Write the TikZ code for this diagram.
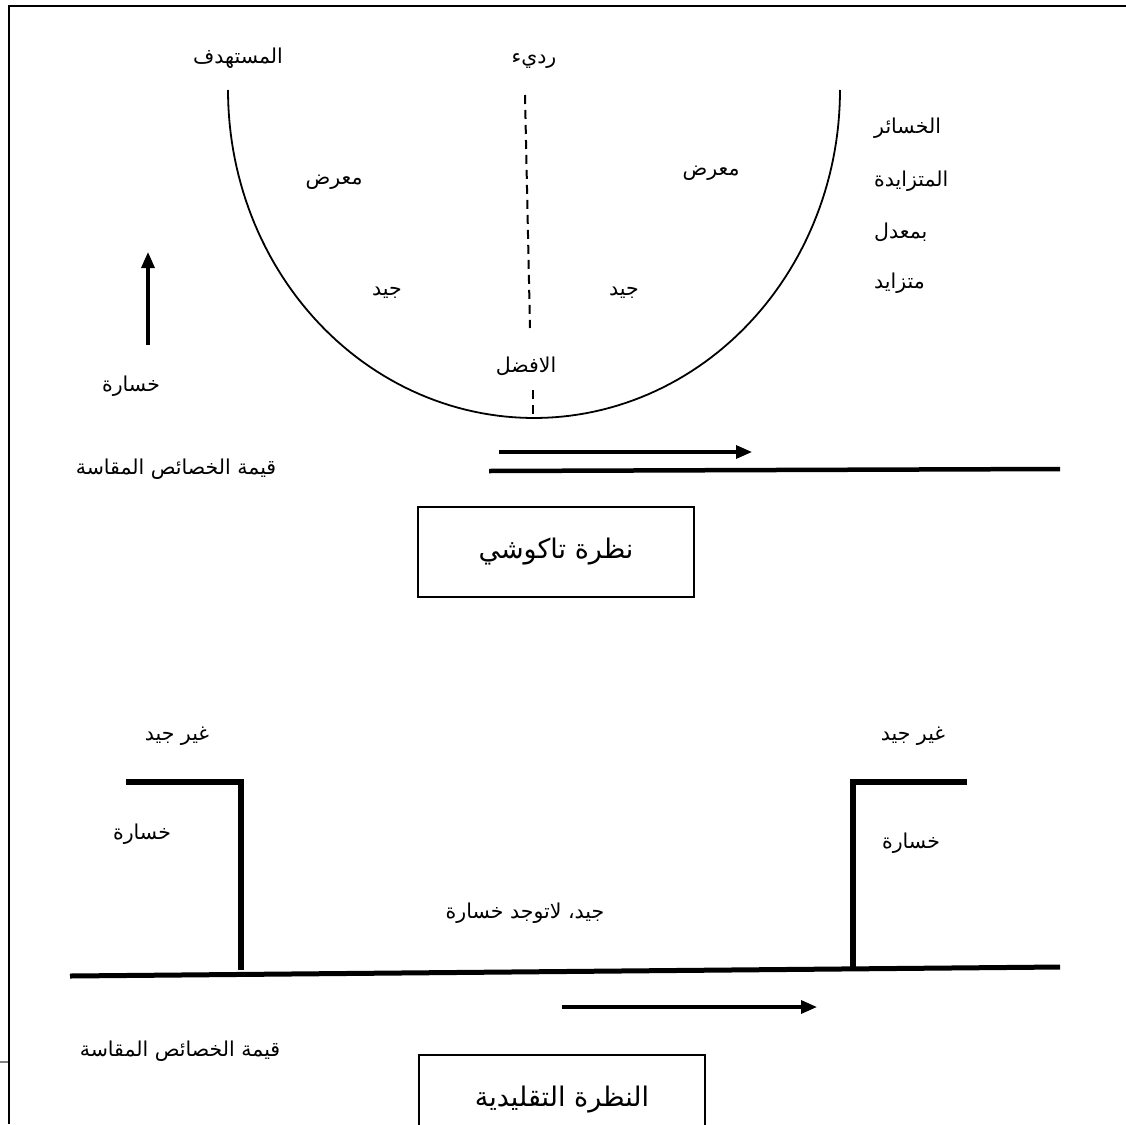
\documentclass[tikz,border=0pt]{standalone}
\usepackage{fontspec}
\newfontfamily\arfont[Script=Arabic]{DejaVu Sans}
\TeXXeTstate=1
\usetikzlibrary{arrows.meta}
\newcommand\artxt[1]{\beginR #1\endR}
\begin{document}
\begin{tikzpicture}[x=1pt,y=-1pt,
  lbl/.style={font=\arfont\fontsize{20.5}{24}\selectfont, inner sep=0pt},
  ttl/.style={font=\arfont\fontsize{27}{32}\selectfont, inner sep=0pt},
  frameline/.style={line width=2pt},
  curve/.style={line width=1.8pt},
  dashline/.style={line width=2pt, dash pattern=on 9pt off 6pt},
  axis/.style={line width=4.5pt},
  stepline/.style={line width=5.5pt},
  arr/.style={line width=3.2pt, -{Triangle[length=16pt,width=13pt]}},
  boxed/.style={draw, line width=2pt, inner sep=0pt}]
\useasboundingbox (0,0) rectangle (1126,1124);
% frame
\coordinate (fTL) at (9,6);
\coordinate (fTR) at (1126,6);
\coordinate (fBL) at (9,1124);
\draw[frameline] (fTR) -- (fTL) -- (fBL);
\coordinate (gA) at (0,1062);
\coordinate (gB) at (8,1062);
\draw[gray,line width=1.5pt] (gA) -- (gB);

% ---------- Taguchi view ----------
\draw[curve] plot[domain=180:360, samples=120] ({534+306*cos(\x)}, {90-328*sin(\x)});
\coordinate (dA) at (525,95);
\coordinate (dB) at (530,328);
\coordinate (dC) at (533,390);
\coordinate (dD) at (533,418);
\draw[dashline] (dA) -- (dB);
\draw[dashline] (dC) -- (dD);

\node[lbl] (target) at (238,58) {\artxt{المستهدف}};
\node[lbl] (bad) at (534,61) {\artxt{رديء}};
\node[lbl] (fairL) at (334,182) {\artxt{معرض}};
\node[lbl] (fairR) at (711,173) {\artxt{معرض}};
\node[lbl,anchor=west] (r1) at (874,128) {\artxt{الخسائر}};
\node[lbl,anchor=west] (r2) at (874,181) {\artxt{المتزايدة}};
\node[lbl,anchor=west] (r3) at (874,232) {\artxt{بمعدل}};
\node[lbl,anchor=west] (r4) at (874,283) {\artxt{متزايد}};
\node[lbl] (goodL) at (387,293) {\artxt{جيد}};
\node[lbl] (goodR) at (624,293) {\artxt{جيد}};
\node[lbl] (best) at (526,366) {\artxt{الافضل}};
\node[lbl] (lossT) at (131,386) {\artxt{خسارة}};
\node[lbl] (valT) at (176,469) {\artxt{قيمة الخصائص المقاسة}};

\coordinate (upA) at (148,345);
\coordinate (upB) at (148,252);
\draw[arr] (upA) -- (upB);
\coordinate (raA) at (499,452);
\coordinate (raB) at (752,452);
\draw[arr] (raA) -- (raB);
\coordinate (axA) at (489,471);
\coordinate (axB) at (1060,469);
\draw[axis] (axA) -- (axB);

\node[boxed, minimum width=276pt, minimum height=90pt] (tbox) at (556,552) {};
\node[ttl] (ttitle) at (tbox.center) {\artxt{نظرة تاكوشي}};

% ---------- Traditional view ----------
\node[lbl] (ngL) at (177,736) {\artxt{غير جيد}};
\node[lbl] (ngR) at (913,736) {\artxt{غير جيد}};
\node[lbl] (lossL) at (142,834) {\artxt{خسارة}};
\node[lbl] (lossR) at (911,843) {\artxt{خسارة}};
\node[lbl] (goodNo) at (525,913) {\artxt{جيد، لاتوجد خسارة}};

\coordinate (sLa) at (126,782);
\coordinate (sLb) at (241,782);
\coordinate (sLc) at (241,970);
\draw[stepline] (sLa) -- (sLb) -- (sLc);
\coordinate (sRa) at (967,782);
\coordinate (sRb) at (853,782);
\coordinate (sRc) at (853,968);
\draw[stepline] (sRa) -- (sRb) -- (sRc);
\coordinate (bxA) at (70,976);
\coordinate (bxB) at (1060,967);
\draw[axis, line width=5pt] (bxA) -- (bxB);

\coordinate (baA) at (562,1007);
\coordinate (baB) at (817,1007);
\draw[arr] (baA) -- (baB);
\node[lbl] (valB) at (180,1051) {\artxt{قيمة الخصائص المقاسة}};

\coordinate (b2a) at (419,1130);
\coordinate (b2b) at (419,1055);
\coordinate (b2c) at (705,1055);
\coordinate (b2d) at (705,1130);
\draw[line width=2pt] (b2a) -- (b2b) -- (b2c) -- (b2d);
\node[ttl] (btitle) at (562,1100) {\artxt{النظرة التقليدية}};
\end{tikzpicture}
\end{document}
